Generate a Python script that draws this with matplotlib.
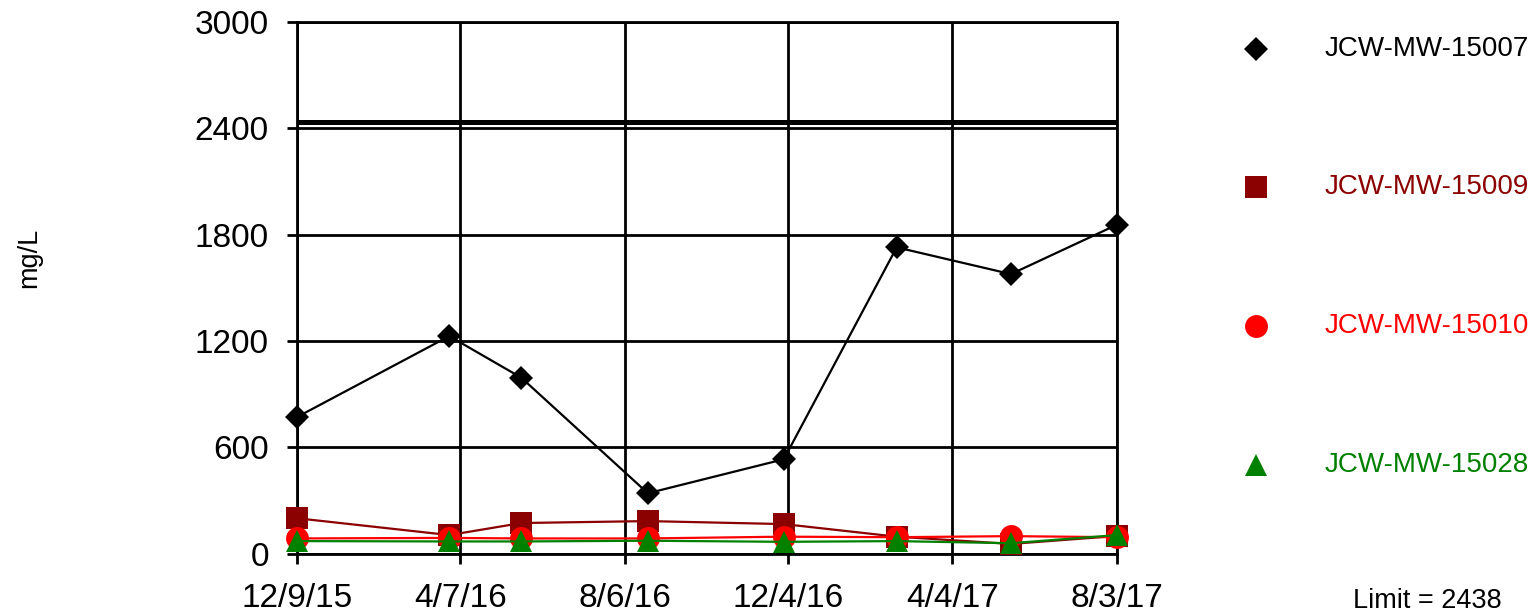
import matplotlib
matplotlib.use('Agg')
import matplotlib.pyplot as plt
from matplotlib.lines import Line2D
import datetime as dt

plt.rcParams['font.family'] = ['Liberation Sans', 'DejaVu Sans']

# ---- data ----
sample_dates = ['2015-12-09', '2016-03-30', '2016-05-22', '2016-08-23',
                '2016-12-01', '2017-02-22', '2017-05-17', '2017-08-03']
mw15007 = [770, 1227, 992, 340, 532, 1728, 1577, 1856]
mw15009 = [199, 104, 172, 183, 166, 95, 54, 99]
mw15010 = [85, 88, 85, 85, 95, 92, 98, 92]
mw15028 = [70, 68, 68, 72, 66, 70, 58, 104]
series_names = ['JCW-MW-15007', 'JCW-MW-15009', 'JCW-MW-15010', 'JCW-MW-15028']
limit_value = 2438
x_tick_labels = ['12/9/15', '4/7/16', '8/6/16', '12/4/16', '4/4/17', '8/3/17']
y_ticks = [0, 600, 1200, 1800, 2400, 3000]

# ---- styles ----
colors = ['#000000', '#8B0000', '#FF0000', '#008000']
markers = ['D', 's', 'o', '^']
msizes = [12.3, 16.5, 16.5, 16.5]

x = [dt.datetime.strptime(d, '%Y-%m-%d') for d in sample_dates]
xt = [dt.datetime.strptime(t, '%m/%d/%y') for t in x_tick_labels]
values = [mw15007, mw15009, mw15010, mw15028]

W, H = 1536, 616
fig = plt.figure(figsize=(W / 100, H / 100), dpi=100)
ax = fig.add_axes([297 / W, 1 - 553.5 / H, (1117 - 297) / W, (553.5 - 22) / H])

for v, c, m, ms in zip(values, colors, markers, msizes):
    ax.plot(x, v, color=c, lw=1.6, marker=m, markersize=ms,
            markeredgewidth=0, clip_on=False, zorder=3)

ax.axhline(limit_value, color='black', lw=3.6, zorder=2)

ax.set_xlim(xt[0], xt[-1])
ax.set_ylim(0, 3000)
ax.set_xticks(xt)
ax.set_xticklabels(x_tick_labels)
ax.set_yticks(y_ticks)
ax.grid(True, color='black', lw=2.0, zorder=1)
for s in ax.spines.values():
    s.set_color('black')
    s.set_linewidth(2.0)
ax.tick_params(axis='both', which='major', direction='out', length=7.2,
               width=2.0, labelsize=24, colors='black')
ax.tick_params(axis='x', pad=14)
ax.tick_params(axis='y', pad=13)

fig.text(29 / W, 1 - 258 / H, 'mg/L', rotation=90, fontsize=19.5,
         ha='center', va='center')

# legend (manual, figure coordinates)
leg_y = [49, 187, 326, 465]
for name, c, m, ms, yy in zip(series_names, colors, markers, msizes, leg_y):
    fig.add_artist(Line2D([1256 / W], [1 - yy / H], transform=fig.transFigure,
                          marker=m, markersize=ms, color=c, markeredgewidth=0,
                          linestyle='none'))
    fig.text(1325 / W, 1 - yy / H, name, color=c, fontsize=20,
             ha='left', va='center')

fig.text(1427 / W, 1 - 601 / H, 'Limit = ' + str(limit_value), fontsize=19.5,
         ha='center', va='center')

fig.savefig('out.png', dpi=100)
